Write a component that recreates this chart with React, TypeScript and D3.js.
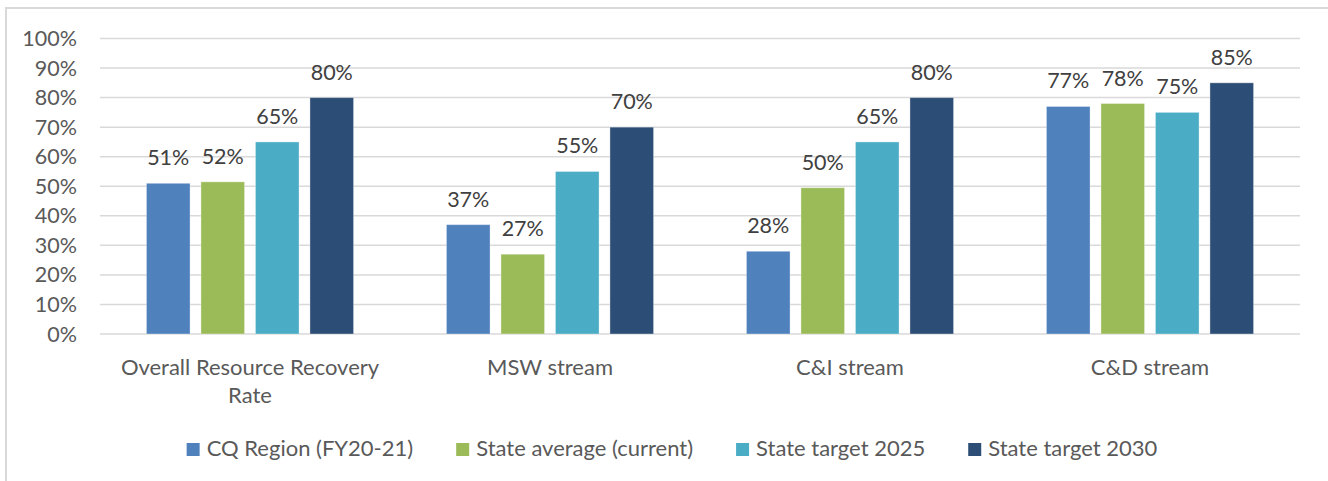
import React, { useEffect, useRef } from "react";
import * as d3 from "d3";

const categories = ["Overall Resource Recovery Rate", "MSW stream", "C&I stream", "C&D stream"];
const categoryLines = [["Overall Resource Recovery", "Rate"], ["MSW stream"], ["C&I stream"], ["C&D stream"]];
const seriesNames = ["CQ Region (FY20-21)", "State average (current)", "State target 2025", "State target 2030"];
const cqRegion = [0.51, 0.37, 0.28, 0.77];
const stateAverage = [0.515, 0.27, 0.495, 0.78];
const target2025 = [0.65, 0.55, 0.65, 0.75];
const target2030 = [0.8, 0.7, 0.8, 0.85];
const labelsCQ = ["51%", "37%", "28%", "77%"];
const labelsAvg = ["52%", "27%", "50%", "78%"];
const labels2025 = ["65%", "55%", "65%", "75%"];
const labels2030 = ["80%", "70%", "80%", "85%"];
const yTicks = [0, 0.1, 0.2, 0.3, 0.4, 0.5, 0.6, 0.7, 0.8, 0.9, 1.0];
const colors = ["#4f81bd", "#9bbb59", "#4bacc6", "#2c4d75"];

const W = 1328;
const H = 481;
const FONT = "Lato, 'Open Sans', sans-serif";
const TEXT = "#595959";

export default function App() {
  const ref = useRef<SVGSVGElement>(null);

  useEffect(() => {
    const svg = d3.select(ref.current);
    svg.selectAll("*").remove();

    const values = [cqRegion, stateAverage, target2025, target2030];
    const labels = [labelsCQ, labelsAvg, labels2025, labels2030];

    svg.append("rect").attr("x", 0).attr("y", 0).attr("width", W).attr("height", H).attr("fill", "#fff");
    svg.append("rect").attr("x", 6).attr("y", 8).attr("width", W + 20).attr("height", H + 20)
      .attr("fill", "none").attr("stroke", "#d9d9d9").attr("stroke-width", 2);

    const left = 100, right = 1300;
    const y = d3.scaleLinear().domain([0, 1]).range([334, 38.5]);
    const x0 = d3.scaleBand<string>().domain(categories).range([left, right]).padding(0);
    const x1 = d3.scaleBand<string>().domain(seriesNames).range([0, x0.bandwidth()])
      .paddingInner(0.2).paddingOuter(0.852);

    // gridlines
    svg.append("g").selectAll("line").data(yTicks).join("line")
      .attr("x1", left).attr("x2", right)
      .attr("y1", (d) => y(d)).attr("y2", (d) => y(d))
      .attr("stroke", "#d9d9d9").attr("stroke-width", 1.5);

    // y tick labels
    svg.append("g").selectAll("text").data(yTicks).join("text")
      .attr("x", 77).attr("y", (d) => y(d)).attr("dy", "0.35em")
      .attr("text-anchor", "end").attr("font-family", FONT).attr("font-size", 21.5).attr("fill", TEXT)
      .text((d) => d3.format(".0%")(d));

    // bars
    seriesNames.forEach((s, si) => {
      const g = svg.append("g");
      g.selectAll("rect").data(categories).join("rect")
        .attr("x", (c) => (x0(c) as number) + (x1(s) as number))
        .attr("width", x1.bandwidth())
        .attr("y", (c, i) => y(values[si][i]))
        .attr("height", (c, i) => y(0) - y(values[si][i]))
        .attr("fill", colors[si])
        .attr("stroke", "#ffffff").attr("stroke-opacity", 0.35).attr("stroke-width", 1);
      g.selectAll("text").data(categories).join("text")
        .attr("x", (c) => (x0(c) as number) + (x1(s) as number) + x1.bandwidth() / 2)
        .attr("y", (c, i) => y(values[si][i]) - 18)
        .attr("text-anchor", "middle").attr("font-family", FONT).attr("font-size", 21.5).attr("fill", "#404040")
        .text((c, i) => labels[si][i]);
    });

    // category labels
    categories.forEach((c, ci) => {
      const cx = (x0(c) as number) + x0.bandwidth() / 2;
      categoryLines[ci].forEach((line, li) => {
        svg.append("text").attr("x", cx).attr("y", 375 + li * 28)
          .attr("text-anchor", "middle").attr("font-family", FONT).attr("font-size", 22).attr("fill", TEXT)
          .text(line);
      });
    });

    // legend
    const lg = svg.append("g");
    const items = seriesNames.map((s, i) => {
      const g = lg.append("g");
      g.append("rect").attr("x", 0).attr("y", 443).attr("width", 13).attr("height", 13).attr("fill", colors[i]);
      const t = g.append("text").attr("x", 20).attr("y", 456)
        .attr("font-family", FONT).attr("font-size", 22).attr("fill", TEXT).text(s);
      const w = (t.node() as SVGTextElement).getComputedTextLength();
      return { g, w: 20 + w };
    });
    const gap = 43;
    const total = d3.sum(items, (d) => d.w) + gap * (items.length - 1);
    let cx = 672 - total / 2;
    items.forEach((it) => {
      it.g.attr("transform", `translate(${cx},0)`);
      cx += it.w + gap;
    });
  }, []);

  return (
    <svg ref={ref} width={W} height={H} style={{ position: "absolute", left: 0, top: 0, display: "block" }} />
  );
}
